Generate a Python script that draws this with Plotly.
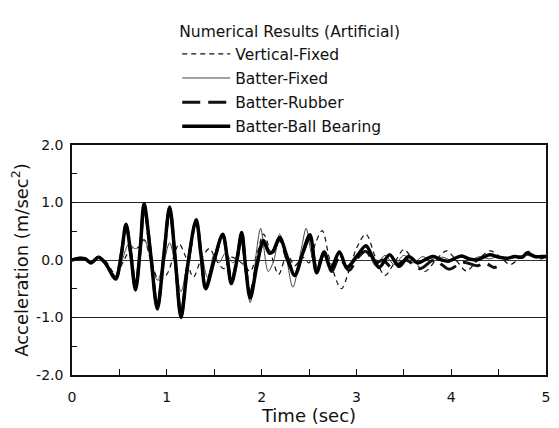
import plotly.graph_objects as go

# ---- Data ----
vf_t = [0, 0.1, 0.2, 0.28, 0.36, 0.46, 0.55, 0.62, 0.7, 0.76,
        0.83, 0.92, 1.0, 1.06, 1.13, 1.2, 1.28, 1.36, 1.45, 1.52,
        1.6, 1.68, 1.75, 1.82, 1.88, 1.95, 2.02, 2.1, 2.18, 2.27,
        2.35, 2.43, 2.5, 2.57, 2.64, 2.72, 2.84, 2.92, 3.0, 3.1,
        3.2, 3.3, 3.4, 3.5, 3.6, 3.72, 3.84, 3.95, 4.05, 4.16,
        4.28, 4.41, 4.52, 4.62, 4.72, 4.82, 4.92, 5.0]
vf_a = [0, 0.02, -0.03, 0.05, -0.03, -0.25, 0.0, 0.2, 0.22, 0.35,
        0.0, -0.35, -0.25, 0.0, 0.28, 0.05, -0.3, 0.0, 0.2, 0.0,
        -0.15, 0.05, 0.0, -0.1, -0.2, 0.1, 0.45, 0.1, -0.25, 0.1,
        -0.1, 0.05, -0.05, 0.3, 0.51, 0.0, -0.5, -0.2, 0.2, 0.45,
        0.05, -0.27, -0.05, 0.18, 0.0, -0.2, 0.0, 0.16, 0.0, -0.19,
        0.0, 0.16, 0.05, -0.08, 0.03, 0.15, 0.02, 0.05]

bf_t = [0, 0.1, 0.2, 0.28, 0.36, 0.46, 0.53, 0.6, 0.66, 0.7,
        0.76, 0.82, 0.9, 0.96, 1.03, 1.09, 1.15, 1.22, 1.3, 1.36,
        1.43, 1.5, 1.55, 1.62, 1.7, 1.78, 1.88, 1.95, 1.99, 2.07,
        2.13, 2.19, 2.26, 2.33, 2.42, 2.47, 2.52, 2.58, 2.66, 2.74,
        2.82, 2.9, 3.0, 3.1, 3.2, 3.3, 3.4, 3.5, 3.6, 3.7,
        3.8, 3.9, 4.0, 4.1, 4.2, 4.3, 4.4, 4.5, 4.6, 4.7,
        4.8, 4.9, 5.0]
bf_a = [0, 0.03, -0.04, 0.05, -0.05, -0.3, 0.0, 0.28, 0.2, 0.22,
        0.36, 0.1, -0.35, -0.1, 0.3, -0.1, -0.55, 0.0, 0.62, 0.2,
        -0.3, 0.1, -0.05, 0.12, -0.05, 0.3, -0.74, 0.2, 0.55, -0.2,
        0.0, 0.45, 0.05, -0.47, 0.2, 0.55, 0.15, -0.18, 0.16, -0.15,
        0.12, -0.1, 0.1, 0.22, -0.1, 0.08, -0.08, 0.08, -0.05, 0.06,
        -0.03, 0.05, 0.0, 0.05, 0.0, 0.06, 0.02, 0.06, 0.02, 0.06,
        0.08, 0.04, 0.06]

br_t = [0, 0.08, 0.14, 0.2, 0.28, 0.35, 0.46, 0.52, 0.57, 0.62,
        0.67, 0.72, 0.76, 0.83, 0.9, 0.97, 1.03, 1.09, 1.15, 1.22,
        1.31, 1.36, 1.41, 1.5, 1.59, 1.64, 1.68, 1.74, 1.79, 1.83,
        1.88, 1.95, 2.02, 2.1, 2.19, 2.27, 2.35, 2.43, 2.51, 2.58,
        2.66, 2.74, 2.82, 2.92, 3.02, 3.1, 3.2, 3.28, 3.38, 3.52,
        3.67, 3.82, 3.98, 4.12, 4.28, 4.35, 4.45, 4.48]
br_a = [0, 0.03, 0.02, -0.05, 0.05, -0.05, -0.3, 0.1, 0.6, 0.12,
        -0.5, 0.2, 0.95, 0.1, -0.82, 0.1, 0.9, 0.0, -0.95, -0.1,
        0.68, 0.12, -0.45, 0.0, 0.43, 0.0, -0.4, 0.0, 0.45, -0.1,
        -0.6, -0.05, 0.3, 0.1, 0.35, 0.0, -0.25, 0.1, 0.38, -0.15,
        0.1, -0.2, 0.05, -0.18, 0.05, 0.15, -0.05, 0.0, -0.14, 0.0,
        -0.15, 0.0, -0.16, -0.04, -0.1, -0.05, -0.13, -0.12]

bb_t = [0, 0.08, 0.14, 0.2, 0.28, 0.35, 0.46, 0.52, 0.57, 0.62,
        0.67, 0.72, 0.76, 0.83, 0.9, 0.97, 1.03, 1.09, 1.15, 1.22,
        1.31, 1.36, 1.41, 1.5, 1.59, 1.64, 1.68, 1.74, 1.79, 1.83,
        1.88, 1.95, 2.02, 2.08, 2.12, 2.19, 2.27, 2.35, 2.43, 2.51,
        2.58, 2.66, 2.73, 2.82, 2.9, 3.0, 3.1, 3.17, 3.24, 3.35,
        3.45, 3.55, 3.65, 3.75, 3.81, 3.9, 3.97, 4.04, 4.11, 4.19,
        4.27, 4.34, 4.41, 4.5, 4.59, 4.67, 4.75, 4.8, 4.88, 4.95,
        5.0]
bb_a = [0, 0.03, 0.02, -0.05, 0.05, -0.05, -0.33, 0.1, 0.62, 0.1,
        -0.52, 0.2, 0.98, 0.1, -0.85, 0.1, 0.92, 0.0, -1.0, -0.1,
        0.7, 0.1, -0.5, 0.0, 0.45, 0.0, -0.41, 0.0, 0.48, -0.1,
        -0.66, -0.1, 0.34, 0.12, 0.15, 0.39, 0.05, -0.27, 0.1, 0.44,
        -0.22, 0.14, -0.16, 0.14, -0.13, 0.05, 0.25, 0.05, -0.13, 0.09,
        -0.11, 0.06, -0.05, 0.03, 0.06, 0.0, -0.02, 0.03, 0.07, 0.02,
        0.0, 0.05, 0.09, 0.05, 0.03, 0.06, 0.05, 0.12, 0.06, 0.06,
        0.06]

names = ["Vertical-Fixed", "Batter-Fixed", "Batter-Rubber", "Batter-Ball Bearing"]
legend_title = "Numerical Results (Artificial)"
x_ticks = [0, 1, 2, 3, 4, 5]
y_ticks = [-2.0, -1.0, 0.0, 1.0, 2.0]

assert len(vf_t) == len(vf_a)
assert len(bf_t) == len(bf_a)
assert len(br_t) == len(br_a)
assert len(bb_t) == len(bb_a)

FONT = "DejaVu Sans"
fig = go.Figure()
series = [
    (vf_t, vf_a, dict(color="#111", width=1.2, dash="5px,4px")),
    (bf_t, bf_a, dict(color="#444", width=1.0)),
    (br_t, br_a, dict(color="#111", width=3.0, dash="18px,8px")),
    (bb_t, bb_a, dict(color="#000", width=3.5)),
]
for i, (t, a, ln) in enumerate(series):
    fig.add_trace(go.Scatter(x=t, y=a, mode="lines", name=names[i],
                             line=dict(shape="spline", smoothing=0.9, **ln),
                             legendgroup=str(i)))

fig.update_layout(
    width=551, height=420,
    margin=dict(l=64, r=9, t=124, b=50),
    paper_bgcolor="white", plot_bgcolor="white",
    font=dict(family=FONT, color="#111", size=14),
    showlegend=True,
    legend=dict(
        x=0.222, y=1.556, xanchor="left", yanchor="top",
        bgcolor="rgba(0,0,0,0)",
        font=dict(size=15.5, family=FONT),
        title=dict(text=legend_title, side="top", font=dict(size=15.5, family=FONT)),
        tracegroupgap=1,
        itemwidth=48,
    ),
    xaxis=dict(
        range=[0, 5], tickvals=x_ticks, ticktext=[str(v) for v in x_ticks],
        showgrid=False, zeroline=False,
        showline=True, linecolor="#111", linewidth=1.5, mirror=True,
        ticks="inside", ticklen=6, tickcolor="#111",
        minor=dict(dtick=0.5, ticks="inside", ticklen=6, tickcolor="#111", showgrid=False),
        ticklabelstandoff=8,
        title=dict(text="Time (sec)", font=dict(size=18), standoff=2),
        tickfont=dict(size=14),
    ),
    yaxis=dict(
        range=[-2, 2], tickvals=y_ticks, ticktext=["%.1f" % v for v in y_ticks],
        showgrid=True, gridcolor="#222", gridwidth=1,
        zeroline=True, zerolinecolor="#333", zerolinewidth=1,
        showline=True, linecolor="#111", linewidth=1.5, mirror=True,
        ticks="inside", ticklen=5, tickcolor="#111",
        minor=dict(dtick=0.5, ticks="inside", ticklen=5, tickcolor="#111", showgrid=False),
        ticklabelstandoff=4,
        title=dict(text="Acceleration (m/sec<sup>2</sup>)", font=dict(size=18), standoff=4),
        tickfont=dict(size=14),
    ),
)

fig.write_html("out.html")
